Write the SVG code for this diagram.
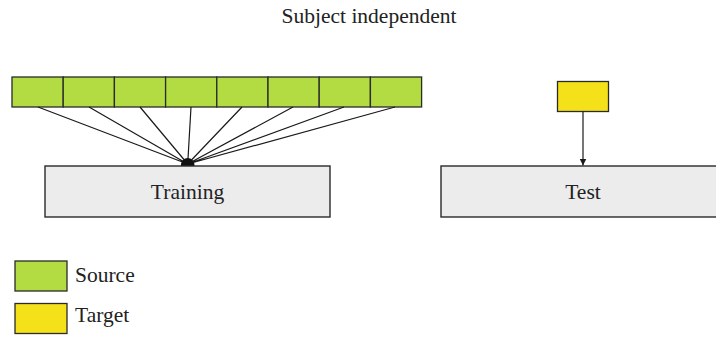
<svg xmlns="http://www.w3.org/2000/svg" width="716" height="337" viewBox="0 0 716 337">
<defs>
<style>
.t{font-family:"Liberation Serif","Times New Roman",serif;font-size:21.5px;fill:#222}
.src{fill:#b3db42;stroke:#2a2a2a;stroke-width:1.3}
.tgt{fill:#f5e11a;stroke:#2a2a2a;stroke-width:1.3}
.box{fill:#ececec;stroke:#2a2a2a;stroke-width:1.4}
.ln{stroke:#1a1a1a;stroke-width:1.2;fill:none}
</style>
<marker id="ah" viewBox="0 0 10 10" refX="10" refY="5" markerWidth="7" markerHeight="7" markerUnits="userSpaceOnUse" orient="auto">
<path d="M0,0 L10,5 L0,10 z" fill="#1a1a1a"/>
</marker>
</defs>
<rect width="716" height="337" fill="#fff"/>
<text id="title" class="t" x="369" y="23" text-anchor="middle">Subject independent</text>

<g id="source-bar">
<rect class="src" x="12" y="77" width="51.2" height="30"/>
<rect class="src" x="63.2" y="77" width="51.2" height="30"/>
<rect class="src" x="114.4" y="77" width="51.2" height="30"/>
<rect class="src" x="165.6" y="77" width="51.2" height="30"/>
<rect class="src" x="216.8" y="77" width="51.2" height="30"/>
<rect class="src" x="268" y="77" width="51.2" height="30"/>
<rect class="src" x="319.2" y="77" width="51.2" height="30"/>
<rect class="src" x="370.4" y="77" width="51.2" height="30"/>
</g>

<g id="target-box">
<rect class="tgt" x="557.5" y="81.5" width="51" height="30"/>
</g>

<g id="connectors">
<path class="ln" d="M38,107 L187.7,164 M89,107 L187.7,164 M140,107 L187.7,164 M191,107 L187.7,164 M242,107 L187.7,164 M293,107 L187.7,164 M344,107 L187.7,164 M395,107 L187.7,164"/>
<path d="M180.8,166 A6.9,8 0 0 1 194.6,166 Z" fill="#111"/>
<line class="ln" x1="583" y1="111.5" x2="583" y2="165.5" marker-end="url(#ah)"/>
</g>

<g id="training">
<rect class="box" x="45" y="166" width="285" height="51"/>
<text class="t" x="187.5" y="198.5" text-anchor="middle">Training</text>
</g>

<g id="test">
<rect class="box" x="441" y="166" width="290" height="51"/>
<text class="t" x="583" y="198.5" text-anchor="middle">Test</text>
</g>

<g id="legend">
<rect class="src" x="15" y="261" width="52" height="30"/>
<text class="t" x="75" y="282">Source</text>
<rect class="tgt" x="15" y="303.5" width="52" height="30"/>
<text class="t" x="75" y="322">Target</text>
</g>
</svg>
